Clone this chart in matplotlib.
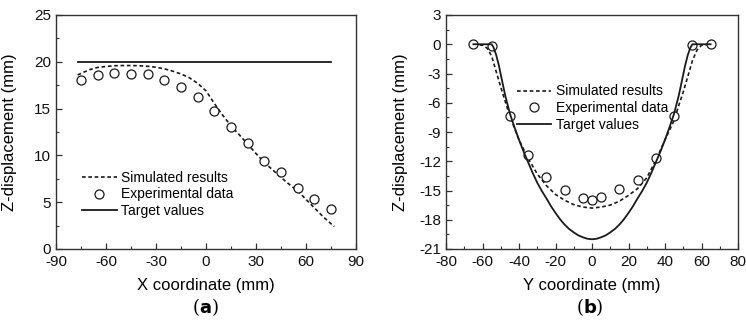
import matplotlib
matplotlib.use("Agg")
import matplotlib.pyplot as plt
from matplotlib.ticker import MultipleLocator

plt.rcParams['font.family'] = ['Liberation Sans', 'DejaVu Sans']
plt.rcParams['axes.unicode_minus'] = False

# ---------------- Panel (a) data ----------------
a_exp_x = [-75, -65, -55, -45, -35, -25, -15, -5, 5, 15, 25, 35, 45, 55, 65, 75]
a_exp_y = [18.06, 18.59, 18.84, 18.70, 18.70, 18.02, 17.27, 16.28, 14.71, 13.03,
           11.29, 9.44, 8.19, 6.48, 5.34, 4.24]
a_sim_x = [-77, -70, -65, -60, -55, -50, -45, -40, -35, -30, -25, -20, -15, -10, -5,
           0, 5, 10, 15, 20, 25, 30, 35, 40, 45, 50, 55, 60, 65, 70, 75, 77]
a_sim_y = [18.6, 19.15, 19.4, 19.5, 19.58, 19.6, 19.6, 19.58, 19.52, 19.42, 19.25,
           19.0, 18.7, 18.3, 17.7, 16.9, 15.55, 14.3, 13.15, 12.2, 11.2, 10.2, 9.25,
           8.45, 7.65, 6.9, 6.2, 5.3, 4.4, 3.5, 2.7, 2.4]
a_tgt_x = [-77, 75]
a_tgt_y = [20, 20]

# ---------------- Panel (b) data ----------------
b_exp_x = [-65, -55, -45, -35, -25, -15, -5, 0, 5, 15, 25, 35, 45, 55, 65]
b_exp_y = [0.0, -0.14, -7.41, -11.41, -13.66, -14.96, -15.78, -15.98, -15.67,
           -14.86, -13.9, -11.71, -7.34, -0.07, 0.0]
b_sim_x = [-65, -60, -57.5, -55, -52.5, -50, -47.5, -45, -40, -35, -30, -25, -20,
           -15, -10, -5, 0, 5, 10, 15, 20, 25, 30, 35, 40, 45, 47.5, 50, 52.5, 55,
           57.5, 60, 65]
b_sim_y = [0.0, -0.1, -0.4, -1.2, -2.8, -4.4, -5.9, -7.4, -9.8, -11.7, -13.3, -14.5,
           -15.4, -16.0, -16.45, -16.7, -16.8, -16.7, -16.5, -16.1, -15.5, -14.8,
           -13.7, -11.9, -9.8, -7.8, -6.3, -4.9, -3.3, -1.7, -0.6, -0.1, 0.0]
b_tgt_x = [-65, -60, -55, -54, -52.5, -51, -50, -47.5, -45, -42.5, -40, -37.5, -35,
           -32.5, -30, -27.5, -25, -22.5, -20, -17.5, -15, -12.5, -10, -7.5, -5, -2.5,
           0, 2.5, 5, 7.5, 10, 12.5, 15, 17.5, 20, 22.5, 25, 27.5, 30, 32.5, 35, 37.5,
           40, 42.5, 45, 47.5, 50, 51, 52.5, 54, 55, 60, 65]
b_tgt_y = [0, 0, 0, -0.3, -1.1, -2.2, -3.1, -5.3, -7.1, -8.5, -9.8, -11.0, -12.1,
           -13.2, -14.2, -15.05, -15.8, -16.6, -17.3, -17.95, -18.5, -18.95, -19.3,
           -19.6, -19.8, -19.95, -20.0, -19.95, -19.8, -19.6, -19.3, -18.95, -18.5,
           -17.95, -17.3, -16.6, -15.8, -15.05, -14.2, -13.2, -12.1, -11.0, -9.8, -8.5,
           -7.1, -5.3, -3.1, -2.2, -1.1, -0.3, 0, 0, 0]

LC = '#1a1a1a'
SPINE = '#333333'

fig = plt.figure(figsize=(7.46, 3.26), dpi=100)
axA = fig.add_axes([56/746, 77/326, 300/746, 234/326])
axB = fig.add_axes([446/746, 77/326, 292/746, 234/326])


def style(ax):
    for s in ax.spines.values():
        s.set_color(SPINE)
        s.set_linewidth(1.0)
    ax.tick_params(which='both', direction='in', top=False, right=False,
                   colors=SPINE, labelcolor='#111111', labelsize=11)
    ax.tick_params(axis='x', pad=4)
    ax.tick_params(axis='y', pad=3.5)
    ax.tick_params(which='major', length=4, width=0.9)
    ax.tick_params(which='minor', length=2.5, width=0.8)


def draw(ax, sx, sy, ex, ey, tx, ty):
    ax.plot(sx, sy, color=LC, lw=1.2, ls=(0, (2.2, 1.6)), label='Simulated results')
    ax.plot(ex, ey, ls='none', marker='o', ms=6.5, mfc='white', mec=LC, mew=0.9,
            label='Experimental data')
    ax.plot(tx, ty, color=LC, lw=1.3, label='Target values')


draw(axA, a_sim_x, a_sim_y, a_exp_x, a_exp_y, a_tgt_x, a_tgt_y)
axA.set_xlim(-90, 90)
axA.set_ylim(0, 25)
axA.xaxis.set_major_locator(MultipleLocator(30))
axA.xaxis.set_minor_locator(MultipleLocator(15))
axA.yaxis.set_major_locator(MultipleLocator(5))
axA.yaxis.set_minor_locator(MultipleLocator(2.5))
style(axA)
axA.set_xlabel('X coordinate (mm)', fontsize=12)
axA.set_ylabel('Z-displacement (mm)', fontsize=12)
axA.xaxis.set_label_coords(0.5, -0.125)
axA.yaxis.set_label_coords(-0.13, 0.5)
axA.legend(loc='upper left', bbox_to_anchor=(0.087, 0.335), frameon=False,
           fontsize=10, handlelength=2.5, handletextpad=0.3, labelspacing=0.2,
           borderaxespad=0, borderpad=0)

draw(axB, b_sim_x, b_sim_y, b_exp_x, b_exp_y, b_tgt_x, b_tgt_y)
axB.set_xlim(-80, 80)
axB.set_ylim(-21, 3)
axB.xaxis.set_major_locator(MultipleLocator(20))
axB.xaxis.set_minor_locator(MultipleLocator(10))
axB.yaxis.set_major_locator(MultipleLocator(3))
axB.yaxis.set_minor_locator(MultipleLocator(1.5))
style(axB)
axB.set_xlabel('Y coordinate (mm)', fontsize=12)
axB.set_ylabel('Z-displacement (mm)', fontsize=12)
axB.xaxis.set_label_coords(0.5, -0.125)
axB.yaxis.set_label_coords(-0.13, 0.5)
axB.legend(loc='upper left', bbox_to_anchor=(0.242, 0.703), frameon=False,
           fontsize=10, handlelength=2.5, handletextpad=0.3, labelspacing=0.2,
           borderaxespad=0, borderpad=0)

fig.text(205/746, 1 - 307/326, r'($\mathbf{a}$)', ha='center', va='center',
         fontsize=13, family='DejaVu Serif')
fig.text(590/746, 1 - 307/326, r'($\mathbf{b}$)', ha='center', va='center',
         fontsize=13, family='DejaVu Serif')

fig.savefig('out.png', dpi=100)
